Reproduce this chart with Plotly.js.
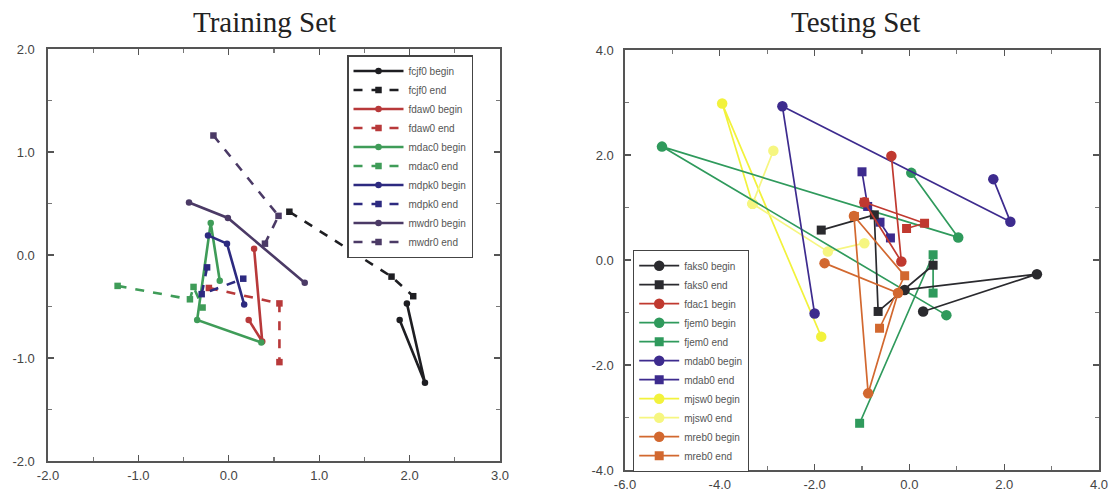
<!DOCTYPE html>
<html><head><meta charset="utf-8">
<script src="https://cdn.plot.ly/plotly-3.0.1.min.js"></script>
<style>html,body{margin:0;padding:0;background:#fff}#chart{width:1119px;height:497px}</style>
</head><body><div id="chart"></div>
<script>
// ---------- Training set (left) ----------
const fcjf0BeginX=[1.89,2.17,1.97];   const fcjf0BeginY=[-0.63,-1.24,-0.47];
const fcjf0EndX=[0.67,1.80,2.04];     const fcjf0EndY=[0.42,-0.21,-0.40];
const fdaw0BeginX=[0.28,0.37,0.22];   const fdaw0BeginY=[0.06,-0.84,-0.63];
const fdaw0EndX=[-0.22,0.56,0.56];    const fdaw0EndY=[-0.32,-0.47,-1.04];
const mdac0BeginX=[-0.10,-0.20,-0.35,0.36]; const mdac0BeginY=[-0.25,0.31,-0.63,-0.85];
const mdac0EndX=[-1.23,-0.43,-0.39,-0.29];  const mdac0EndY=[-0.30,-0.43,-0.31,-0.51];
const mdpk0BeginX=[-0.23,-0.02,0.17]; const mdpk0BeginY=[0.19,0.11,-0.48];
const mdpk0EndX=[-0.24,-0.30,0.16];   const mdpk0EndY=[-0.12,-0.38,-0.23];
const mwdr0BeginX=[-0.44,-0.01,0.84]; const mwdr0BeginY=[0.51,0.36,-0.27];
const mwdr0EndX=[-0.17,0.55,0.40];    const mwdr0EndY=[1.16,0.38,0.11];

// ---------- Testing set (right) ----------
const faks0BeginX=[-0.10,2.69,0.29];  const faks0BeginY=[-0.57,-0.27,-0.98];
const faks0EndX=[-1.86,-0.74,-0.66,0.50]; const faks0EndY=[0.57,0.86,-0.98,-0.10];
const fdac1BeginX=[-0.38,-0.17,-0.95]; const fdac1BeginY=[1.98,-0.03,1.10];
const fdac1EndX=[-0.95,0.32,-0.06];   const fdac1EndY=[1.10,0.70,0.60];
const fjem0BeginX=[0.04,1.03,-5.22,0.78]; const fjem0BeginY=[1.66,0.43,2.16,-1.05];
const fjem0EndX=[0.50,0.50,-1.05];    const fjem0EndY=[-0.63,0.10,-3.11];
const mdab0BeginX=[-2.00,-2.68,2.13,1.77]; const mdab0BeginY=[-1.02,2.93,0.73,1.54];
const mdab0EndX=[-1.00,-0.88,-0.62,-0.40]; const mdab0EndY=[1.68,1.02,0.72,0.42];
const mjsw0BeginX=[-3.31,-3.95,-1.86]; const mjsw0BeginY=[1.07,2.98,-1.46];
const mjsw0EndX=[-2.87,-3.31,-1.72,-0.95]; const mjsw0EndY=[2.08,1.07,0.16,0.32];
const mreb0BeginX=[-1.79,-0.24,-0.87,-1.17]; const mreb0BeginY=[-0.06,-0.63,-2.54,0.84];
const mreb0EndX=[-1.16,-0.10,-0.63];  const mreb0EndY=[0.83,-0.30,-1.30];

const trainTicks=['-2.0','-1.0','0.0','1.0','2.0','3.0'];
const trainYTicks=['-2.0','-1.0','0.0','1.0','2.0'];
const testXTicks=['-6.0','-4.0','-2.0','0.0','2.0','4.0'];
const testYTicks=['-4.0','-2.0','0.0','2.0','4.0'];

function L(name,x,y,color,dash,sym){
  return {type:'scatter',mode:'lines+markers',name:name,x:x,y:y,xaxis:'x',yaxis:'y',legend:'legend',
    line:{color:color,width:2.6,dash:dash},marker:{symbol:sym,size:6.5,color:color}};
}
function R(name,x,y,color,sym,show){
  return {type:'scatter',mode:'lines+markers',name:name,x:x,y:y,xaxis:'x2',yaxis:'y2',legend:'legend2',
    showlegend:show!==false,line:{color:color,width:1.7},marker:{symbol:sym,size:sym==='square'?9:10.5,color:color}};
}
const cBlack='#1e1e22', cRed='#b8393a', cGreen='#3f9c58', cNavy='#2d2a80', cPurple='#4b3a66';
const rBlack='#2a2a2e', rRed='#c0392f', rGreen='#2f9a5c', rNavy='#3d2b8e', rYel='#f2f23c', rYel2='#f6f680', rOr='#d2682f';

const data=[
  L('fcjf0 begin',fcjf0BeginX,fcjf0BeginY,cBlack,'solid','circle'),
  L('fcjf0 end',fcjf0EndX,fcjf0EndY,cBlack,'dash','square'),
  L('fdaw0 begin',fdaw0BeginX,fdaw0BeginY,cRed,'solid','circle'),
  L('fdaw0 end',fdaw0EndX,fdaw0EndY,cRed,'dash','square'),
  L('mdac0 begin',mdac0BeginX,mdac0BeginY,cGreen,'solid','circle'),
  L('mdac0 end',mdac0EndX,mdac0EndY,cGreen,'dash','square'),
  L('mdpk0 begin',mdpk0BeginX,mdpk0BeginY,cNavy,'solid','circle'),
  L('mdpk0 end',mdpk0EndX,mdpk0EndY,cNavy,'dash','square'),
  L('mwdr0 begin',mwdr0BeginX,mwdr0BeginY,cPurple,'solid','circle'),
  L('mwdr0 end',mwdr0EndX,mwdr0EndY,cPurple,'dash','square'),

  R('mjsw0 begin',mjsw0BeginX,mjsw0BeginY,rYel,'circle'),
  R('mjsw0 end',mjsw0EndX,mjsw0EndY,rYel2,'circle'),
  R('fjem0 begin',fjem0BeginX,fjem0BeginY,rGreen,'circle'),
  R('fjem0 end',fjem0EndX,fjem0EndY,rGreen,'square'),
  R('mdab0 begin',mdab0BeginX,mdab0BeginY,rNavy,'circle'),
  R('mdab0 end',mdab0EndX,mdab0EndY,rNavy,'square'),
  R('faks0 begin',faks0BeginX,faks0BeginY,rBlack,'circle'),
  R('faks0 end',faks0EndX,faks0EndY,rBlack,'square'),
  R('fdac1 begin',fdac1BeginX,fdac1BeginY,rRed,'circle'),
  R('fdac1 end',fdac1EndX,fdac1EndY,rRed,'square',false),
  R('mreb0 begin',mreb0BeginX,mreb0BeginY,rOr,'circle'),
  R('mreb0 end',mreb0EndX,mreb0EndY,rOr,'square')
];
// right legend order as in the reference
const order=['faks0 begin','faks0 end','fdac1 begin','fjem0 begin','fjem0 end','mdab0 begin','mdab0 end','mjsw0 begin','mjsw0 end','mreb0 begin','mreb0 end'];
data.forEach((t,k)=>{ if(t.legend==='legend2'){ const i=order.indexOf(t.name); t.legendrank=i<0?999:i+1; } else { t.legendrank=k+1; } });

const tickFont={family:'Liberation Sans, Arial, sans-serif',size:13,color:'#444'};
function ax(domain,range,minor,labels,anchor,standoff){
  const vals=labels.map(Number);
  return {domain:domain,range:range,anchor:anchor,showgrid:false,zeroline:false,showline:true,linecolor:'#555',linewidth:1.6,
    mirror:'ticks',ticks:'inside',ticklen:6,tickcolor:'#555',tickwidth:1.2,tickvals:vals,ticktext:labels,
    ticklabelstandoff:standoff,
    minor:{dtick:minor,ticks:'inside',ticklen:4,tickcolor:'#777'},tickfont:tickFont,fixedrange:true};
}
const layout={
  width:1119,height:497,margin:{l:0,r:0,t:0,b:0},paper_bgcolor:'#fff',plot_bgcolor:'#fff',
  xaxis:ax([48/1119,500/1119],[-2,3],0.5,trainTicks,'y',2),
  yaxis:ax([1-461/497,1-49/497],[-2,2],0.5,trainYTicks,'x',9),
  xaxis2:ax([625/1119,1099/1119],[-6,4],1,testXTicks,'y2',2),
  yaxis2:ax([1-470/497,1-50/497],[-4,4],1,testYTicks,'x2',7),
  legend:{x:347/1119,y:1-55/497,xanchor:'left',yanchor:'top',bgcolor:'#fff',bordercolor:'#444',borderwidth:1.5,
    font:{family:'Liberation Sans, Arial, sans-serif',size:10,color:'#555'},tracegroupgap:0,itemwidth:50,traceorder:'normal'},
  legend2:{x:633/1119,y:1-250/497,xanchor:'left',yanchor:'top',bgcolor:'#fff',bordercolor:'#444',borderwidth:1.2,
    font:{family:'Liberation Sans, Arial, sans-serif',size:10,color:'#555'},tracegroupgap:0,itemwidth:40,traceorder:'normal'},
  annotations:[
    {text:'Training Set',xref:'paper',yref:'paper',x:264/1119,y:1-22/497,xanchor:'center',yanchor:'middle',showarrow:false,
     font:{family:'Liberation Serif, Times New Roman, serif',size:29,color:'#222'}},
    {text:'Testing Set',xref:'paper',yref:'paper',x:855/1119,y:1-22/497,xanchor:'center',yanchor:'middle',showarrow:false,
     font:{family:'Liberation Serif, Times New Roman, serif',size:29,color:'#222'}}
  ],
  showlegend:true
};
Plotly.newPlot('chart',data,layout,{displayModeBar:false,staticPlot:true});
</script></body></html>
